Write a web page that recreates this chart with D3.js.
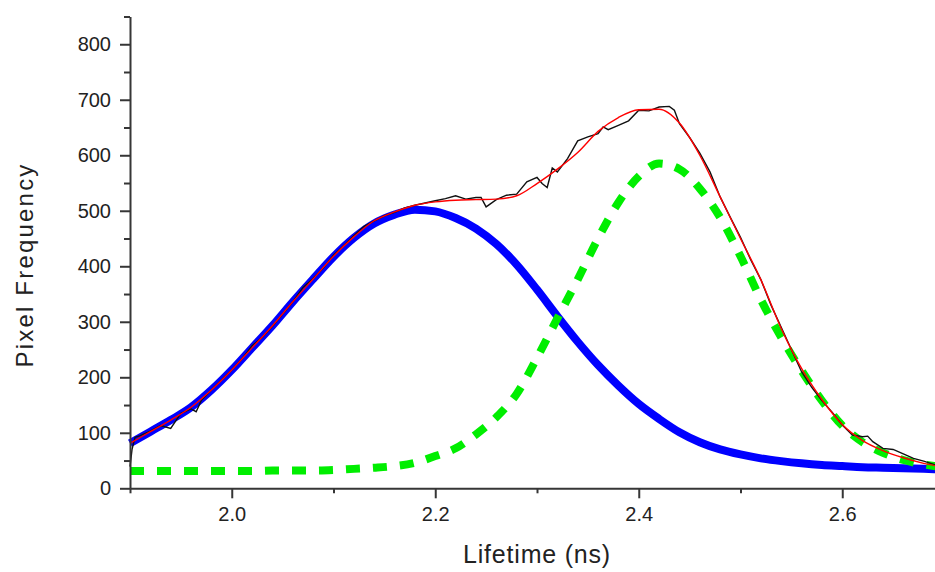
<!DOCTYPE html>
<html>
<head>
<meta charset="utf-8">
<script src="https://cdn.jsdelivr.net/npm/d3@7"></script>
<style>
  html, body { margin: 0; padding: 0; background: #fff; }
  svg { display: block; }
  text { font-family: "Liberation Sans", Arial, sans-serif; }
</style>
</head>
<body>
<svg id="chart" width="935" height="572"></svg>
<script>
// ---------- data ----------
const fitX = [1.90,1.92,1.94,1.96,1.98,2.00,2.02,2.04,2.06,2.08,2.10,2.12,2.14,2.16,2.18,2.20,2.22,2.24,2.26,2.28,2.30,2.32,2.34,2.36,2.38,2.40,2.42,2.44,2.46,2.48,2.50,2.52,2.54,2.56,2.58,2.60,2.62,2.64,2.66,2.68,2.70];
const peak1 = [81,102,123,146,177,213,253,293,336,377,417,451,477,493,502,499,487,468,440,403,358,310,264,222,185,152,125,101,83,70,61,54,49,45,42,40,38,37,36,35,34];
const peak2 = [31,31,31,31,31,31,31,32,32,32,33,35,37,40,46,58,72,97,128,170,235,306,376,450,515,562,585,575,540,488,418,340,272,212,158,113,83,64,51,43,38];
const fitSum = [81,102,123,146,177,213,253,293,336,377,418,453,482,498,510,516,519,520,521,527,549,575,605,643,668,682,683,658,600,525,450,376,288,216,160,115,86,68,55,45,38];

const dataX = [1.900,1.902,1.905,1.91,1.92,1.93,1.94,1.95,1.96,1.965,1.97,1.98,1.99,2.00,2.01,2.02,2.03,2.04,2.05,2.06,2.07,2.08,2.09,2.10,2.11,2.12,2.13,2.14,2.15,2.16,2.17,2.18,2.19,2.20,2.21,2.22,2.23,2.24,2.245,2.25,2.26,2.27,2.28,2.29,2.30,2.305,2.31,2.315,2.32,2.33,2.34,2.35,2.36,2.365,2.37,2.38,2.39,2.40,2.41,2.42,2.43,2.435,2.44,2.45,2.46,2.47,2.48,2.49,2.50,2.51,2.52,2.53,2.54,2.55,2.56,2.57,2.58,2.59,2.60,2.61,2.62,2.625,2.63,2.64,2.65,2.66,2.67,2.68,2.69,2.70];
const dataY = [39,70,92,95,103,113,108,135,143,138,158,177,195,213,233,257,272,292,314,336,362,378,397,420,437,455,472,482,491,497,505,510,514,518,522,527,521,524,524,507,520,528,530,552,560,549,542,577,570,594,626,633,639,651,646,654,662,681,680,687,688,681,657,632,604,570,525,488,452,412,376,330,290,250,210,182,158,137,114,96,93,94,84,72,70,62,54,49,43,40];

const xTicks = [2.0, 2.2, 2.4, 2.6];
const xMinorTicks = [1.9, 2.1, 2.3, 2.5, 2.7];
const yTicks = [0, 100, 200, 300, 400, 500, 600, 700, 800];
const yMinorTicks = [50, 150, 250, 350, 450, 550, 650, 750, 850];

// ---------- layout ----------
const svg = d3.select("#chart");
const x = d3.scaleLinear().domain([1.9, 2.7]).range([130, 944]);
const y = d3.scaleLinear().domain([0, 850]).range([488.3, 16.5]);
const axisColor = "#363636";

const line = d3.line().x(d => x(d[0])).y(d => y(d[1]));
const zip = (a, b) => a.map((v, i) => [v, b[i]]);

const plot = svg.append("g");

// peak 1 (blue, thick)
plot.append("path").datum(zip(fitX, peak1))
  .attr("d", line.curve(d3.curveMonotoneX))
  .attr("fill", "none").attr("stroke", "#0000ff").attr("stroke-width", 8)
  .attr("stroke-linejoin", "round");

// peak 2 (green, dashed thick)
plot.append("path").datum(zip(fitX, peak2))
  .attr("d", line.curve(d3.curveMonotoneX))
  .attr("fill", "none").attr("stroke", "#00ee00").attr("stroke-width", 8)
  .attr("stroke-dasharray", "14 13");

// raw data (black)
plot.append("path").datum(zip(dataX, dataY))
  .attr("d", line.curve(d3.curveLinear))
  .attr("fill", "none").attr("stroke", "#111").attr("stroke-width", 1.4);

// cumulative fit (red)
plot.append("path").datum(zip(fitX, fitSum))
  .attr("d", line.curve(d3.curveMonotoneX))
  .attr("fill", "none").attr("stroke", "#ff0000").attr("stroke-width", 1.4);

// ---------- axes ----------
function styleAxis(g) {
  g.selectAll("path.domain").attr("stroke", axisColor).attr("stroke-width", 2);
  g.selectAll(".tick line").attr("stroke", axisColor).attr("stroke-width", 2);
  g.selectAll("text").attr("fill", "#222").style("font-size", "20px")
    .style("font-family", "'Liberation Sans', Arial, sans-serif");
}

const yAxis = svg.append("g").attr("transform", "translate(130,0)")
  .call(d3.axisLeft(y).tickValues(yTicks).tickSize(10).tickSizeOuter(0).tickPadding(9).tickFormat(d3.format("d")));
styleAxis(yAxis);
const yMinor = svg.append("g").attr("transform", "translate(130,0)")
  .call(d3.axisLeft(y).tickValues(yMinorTicks).tickSize(6).tickFormat(""));
yMinor.select("path.domain").remove();
styleAxis(yMinor);

const xAxis = svg.append("g").attr("transform", "translate(0,488.3)")
  .call(d3.axisBottom(x).tickValues(xTicks).tickSize(10).tickSizeOuter(0).tickPadding(9).tickFormat(d3.format(".1f")));
styleAxis(xAxis);
const xMinor = svg.append("g").attr("transform", "translate(0,488.3)")
  .call(d3.axisBottom(x).tickValues(xMinorTicks).tickSize(5).tickFormat(""));
xMinor.select("path.domain").remove();
styleAxis(xMinor);

// ---------- titles ----------
svg.append("text")
  .attr("x", 537).attr("y", 563)
  .attr("text-anchor", "middle")
  .attr("fill", "#222")
  .style("font-size", "25px").style("letter-spacing", "0.8px")
  .text("Lifetime (ns)");

svg.append("text")
  .attr("transform", "translate(33,265) rotate(-90)")
  .attr("text-anchor", "middle")
  .attr("fill", "#222")
  .style("font-size", "24px").style("letter-spacing", "2.2px")
  .text("Pixel Frequency");
</script>
</body>
</html>
